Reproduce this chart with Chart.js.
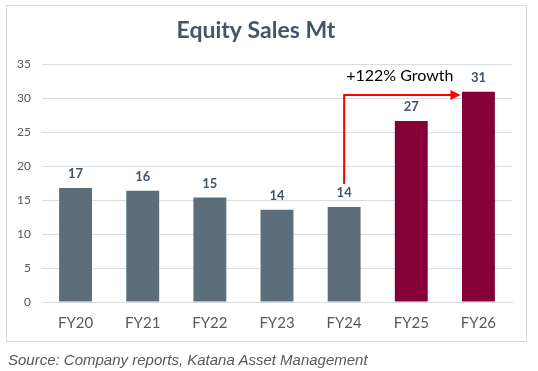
<!DOCTYPE html>
<html>
<head>
<meta charset="utf-8">
<script src="https://cdn.jsdelivr.net/npm/chart.js@4/dist/chart.umd.min.js"></script>
<style>
  html, body { margin: 0; padding: 0; background: #fff; }
  #wrap { position: relative; width: 538px; height: 371px; }
  #frame { position: absolute; left: 6px; top: 5px; width: 521px; height: 337px; border: 1px solid #d9d9d9; box-sizing: border-box; }
  #chart { position: absolute; left: 0; top: 0; }
  #source { position: absolute; left: 8px; top: 351px; font: italic 15px "Liberation Sans", Arial, sans-serif; color: #595959; }
</style>
</head>
<body>
<div id="wrap">
  <div id="frame"></div>
  <canvas id="chart" width="538" height="371"></canvas>
  <div id="source">Source: Company reports, Katana Asset Management</div>
</div>
<script>
// Data
const years = ['FY20', 'FY21', 'FY22', 'FY23', 'FY24', 'FY25', 'FY26'];
const sales = [16.8, 16.4, 15.4, 13.6, 14.0, 26.7, 31.0];
const labels = ['17', '16', '15', '14', '14', '27', '31'];
const barColors = ['#5b6e7a', '#5b6e7a', '#5b6e7a', '#5b6e7a', '#5b6e7a', '#850038', '#850038'];
const growthText = '+122% Growth';

const FONT = 'Lato, "Open Sans", sans-serif';

// value labels above bars
const barLabels = {
    id: 'barLabels',
    afterDatasetsDraw(chart) {
        const ctx = chart.ctx;
        const meta = chart.getDatasetMeta(0);
        ctx.save();
        ctx.font = 'bold 13px ' + FONT;
        ctx.fillStyle = '#44546a';
        ctx.textAlign = 'center';
        ctx.textBaseline = 'middle';
        meta.data.forEach((bar, i) => {
            ctx.fillText(labels[i], bar.x, bar.y - 14);
        });
        ctx.restore();
    }
};

// red growth arrow from FY24 to FY26
const growthArrow = {
    id: 'growthArrow',
    afterDatasetsDraw(chart) {
        const ctx = chart.ctx;
        const x = chart.scales.x;
        const y = chart.scales.y;
        const x0 = x.getPixelForValue(4);
        const x1 = x.getPixelForValue(6) - 18;
        const yBottom = y.getPixelForValue(17.4);
        const yTop = y.getPixelForValue(30.5);
        ctx.save();
        ctx.strokeStyle = '#ff0000';
        ctx.fillStyle = '#ff0000';
        ctx.lineWidth = 2;
        ctx.beginPath();
        ctx.moveTo(x0, yBottom);
        ctx.lineTo(x0, yTop);
        ctx.lineTo(x1 - 8, yTop);
        ctx.stroke();
        ctx.beginPath();
        ctx.moveTo(x1, yTop);
        ctx.lineTo(x1 - 10, yTop - 5);
        ctx.lineTo(x1 - 10, yTop + 5);
        ctx.closePath();
        ctx.fill();

        ctx.font = '16px ' + FONT;
        ctx.fillStyle = '#000';
        ctx.textAlign = 'left';
        ctx.textBaseline = 'middle';
        ctx.fillText(growthText, x0 + 2, y.getPixelForValue(33.3));
        ctx.restore();
    }
};

new Chart(document.getElementById('chart'), {
    type: 'bar',
    data: {
        labels: years,
        datasets: [{
            data: sales,
            backgroundColor: barColors,
            categoryPercentage: 1,
            barPercentage: 0.49
        }]
    },
    options: {
        responsive: false,
        animation: false,
        layout: { padding: { left: 0, right: 26, top: 0, bottom: 29 } },
        plugins: {
            legend: { display: false },
            tooltip: { enabled: false },
            title: {
                display: true,
                text: 'Equity Sales Mt',
                color: '#44546a',
                font: { family: FONT, size: 23, weight: 'bold' },
                padding: { top: 17, bottom: 20 }
            }
        },
        scales: {
            x: {
                grid: { display: false, drawTicks: false },
                border: { color: '#d9dee5' },
                ticks: { color: '#595959', font: { family: FONT, size: 15 }, padding: 12 },
                afterFit(scale) { scale.height = 40; }
            },
            y: {
                min: 0,
                max: 35,
                ticks: { stepSize: 5, color: '#595959', font: { family: FONT, size: 12 }, padding: 11 },
                grid: { color: '#d9dee5', drawTicks: false },
                border: { display: false },
                afterFit(scale) { scale.width = 42; }
            }
        }
    },
    plugins: [barLabels, growthArrow]
});
</script>
</body>
</html>
